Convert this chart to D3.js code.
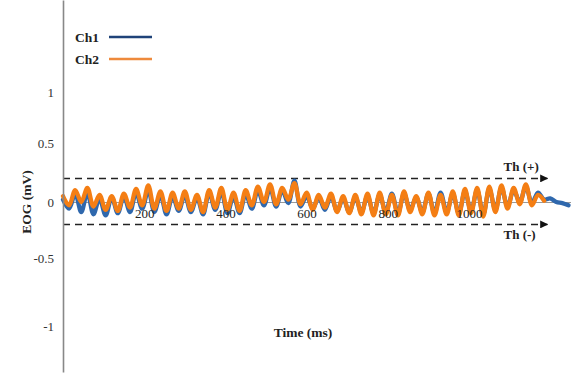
<!DOCTYPE html>
<html><head><meta charset="utf-8">
<script src="https://cdn.jsdelivr.net/npm/d3@7"></script>
<style>body{margin:0;background:#fff}svg{display:block}text{font-family:"Liberation Serif","DejaVu Serif",serif}</style>
</head><body><svg id="c" width="580" height="374"></svg>
<script>
// ---- data ----
const stepMs = 15;
const ch1 = [
 0.02,-0.06,0.07,-0.09,0.08,-0.11,0.03,-0.12,0.04,-0.10,
 0.05,-0.09,0.08,-0.06,0.10,-0.09,0.06,-0.11,0.05,-0.08,
 0.06,-0.09,0.04,-0.11,0.08,-0.07,0.09,-0.10,0.05,-0.10,
 0.07,-0.06,0.10,-0.03,0.12,-0.04,0.10,-0.01,0.18,-0.04,
 0.05,-0.06,0.04,-0.07,0.05,-0.08,0.03,-0.09,0.04,-0.09,
 0.05,-0.10,0.06,-0.09,0.07,-0.10,0.07,-0.07,0.04,-0.09,
 0.07,-0.10,0.08,-0.09,0.07,-0.10,0.09,-0.08,0.10,-0.11,
 0.11,-0.07,0.12,-0.04,0.10,0.00,0.13,-0.01,0.08,0.02,
 0.03,0.00,-0.01,-0.03
];
const ch2 = [
 0.05,-0.03,0.10,0.00,0.12,-0.04,0.06,-0.07,0.05,-0.08,
 0.07,-0.05,0.11,-0.03,0.14,-0.06,0.09,-0.08,0.08,-0.06,
 0.09,-0.07,0.06,-0.09,0.10,-0.05,0.12,-0.07,0.08,-0.08,
 0.10,-0.03,0.13,0.00,0.15,-0.02,0.12,0.02,0.16,-0.02,
 0.08,-0.07,0.06,-0.05,0.07,-0.09,0.05,-0.10,0.06,-0.11,
 0.07,-0.12,0.08,-0.11,0.06,-0.12,0.09,-0.09,0.05,-0.11,
 0.08,-0.12,0.06,-0.11,0.09,-0.12,0.11,-0.10,0.12,-0.13,
 0.13,-0.09,0.14,-0.06,0.12,-0.02,0.15,-0.03,0.06,0.01
];
const xTicks = [200, 400, 600, 800, 1000];
const yTicks = [-1, -0.5, 0, 0.5, 1];
const thresholds = [{v: 0.2, label: "Th (+)"}, {v: -0.2, label: "Th (-)"}];
const series = [{name: "Ch1", data: ch1, color: "#2f68ad", legend: "#1f4379"},
                {name: "Ch2", data: ch2, color: "#f47e14", legend: "#ee8a3c"}];

// ---- chart ----
const svg = d3.select("#c");
const x = d3.scaleLinear().domain([0, 1250]).range([63, 570.5]);
const y = d3.scaleLinear().domain([-1.4, -1, -0.5, 0, 0.5, 1, 1.8]).range([372, 326, 258, 202, 143, 92, 0]);

svg.append("defs").append("marker").attr("id", "arr").attr("viewBox", "0 0 10 10")
  .attr("refX", 9).attr("refY", 5).attr("markerWidth", 8).attr("markerHeight", 8)
  .attr("markerUnits", "userSpaceOnUse").attr("orient", "auto")
  .append("path").attr("d", "M0,0L10,5L0,10Z").attr("fill", "#111");

// threshold lines
thresholds.forEach(t => {
  svg.append("line").attr("x1", x(0)).attr("x2", x(1193)).attr("y1", y(t.v)).attr("y2", y(t.v))
    .attr("stroke", "#222").attr("stroke-width", 1.5).attr("stroke-dasharray", "7,5")
    .attr("marker-end", "url(#arr)");
});
svg.append("text").attr("x", x(1085)).attr("y", y(0.2) - 7).attr("font-size", 13)
  .attr("font-weight", "bold").attr("fill", "#222").text(thresholds[0].label);
svg.append("text").attr("x", x(1085)).attr("y", y(-0.2) + 15).attr("font-size", 13)
  .attr("font-weight", "bold").attr("fill", "#222").text(thresholds[1].label);

// zero line (x axis domain) under signals
const xa = svg.append("g").attr("transform", `translate(0,${y(0)})`)
  .call(d3.axisBottom(x).tickValues(xTicks).tickSize(0).tickPadding(7).tickFormat(d3.format("d")));
xa.select(".domain").attr("stroke", "#999").attr("stroke-width", 1);
xa.selectAll("text").remove();

// signals
const line = d3.line().x((d, i) => x(i * stepMs)).y(d => y(d)).curve(d3.curveCatmullRom);
series.forEach(s => {
  svg.append("path").datum(s.data).attr("d", line).attr("fill", "none")
    .attr("stroke", s.color).attr("stroke-width", 4.3).attr("stroke-linejoin", "round").attr("stroke-linecap", "round");
});

// x tick labels on top of signals
const xl = svg.append("g").attr("transform", `translate(0,${y(0)})`)
  .call(d3.axisBottom(x).tickValues(xTicks).tickSize(0).tickPadding(7).tickFormat(d3.format("d")));
xl.select(".domain").remove();
xl.selectAll("text").attr("font-size", 13).attr("fill", "#222").attr("font-family", "Liberation Serif");

// y axis
const ya = svg.append("g").attr("transform", `translate(${x(0)},0)`)
  .call(d3.axisLeft(y).tickValues(yTicks).tickSize(0).tickPadding(9).tickFormat(d => String(d)));
ya.select(".domain").attr("stroke", "#888").attr("stroke-width", 1.6);
ya.selectAll("text").attr("font-size", 13).attr("fill", "#333").attr("font-family", "Liberation Serif");

// legend
series.forEach((s, i) => {
  const ly = 37 + i * 22;
  svg.append("text").attr("x", 75).attr("y", ly + 5).attr("font-size", 13.5).attr("font-weight", "bold")
    .attr("fill", "#222").text(s.name);
  svg.append("line").attr("x1", 109).attr("x2", 152).attr("y1", ly).attr("y2", ly)
    .attr("stroke", s.legend).attr("stroke-width", 2.6);
});

// axis titles
svg.append("text").attr("x", 303).attr("y", 337).attr("text-anchor", "middle").attr("font-size", 13.5)
  .attr("font-weight", "bold").attr("fill", "#222").text("Time (ms)");
svg.append("text").attr("transform", `translate(31,${y(0)}) rotate(-90)`).attr("text-anchor", "middle")
  .attr("font-size", 13.5).attr("font-weight", "bold").attr("fill", "#222").text("EOG (mV)");
</script></body></html>
